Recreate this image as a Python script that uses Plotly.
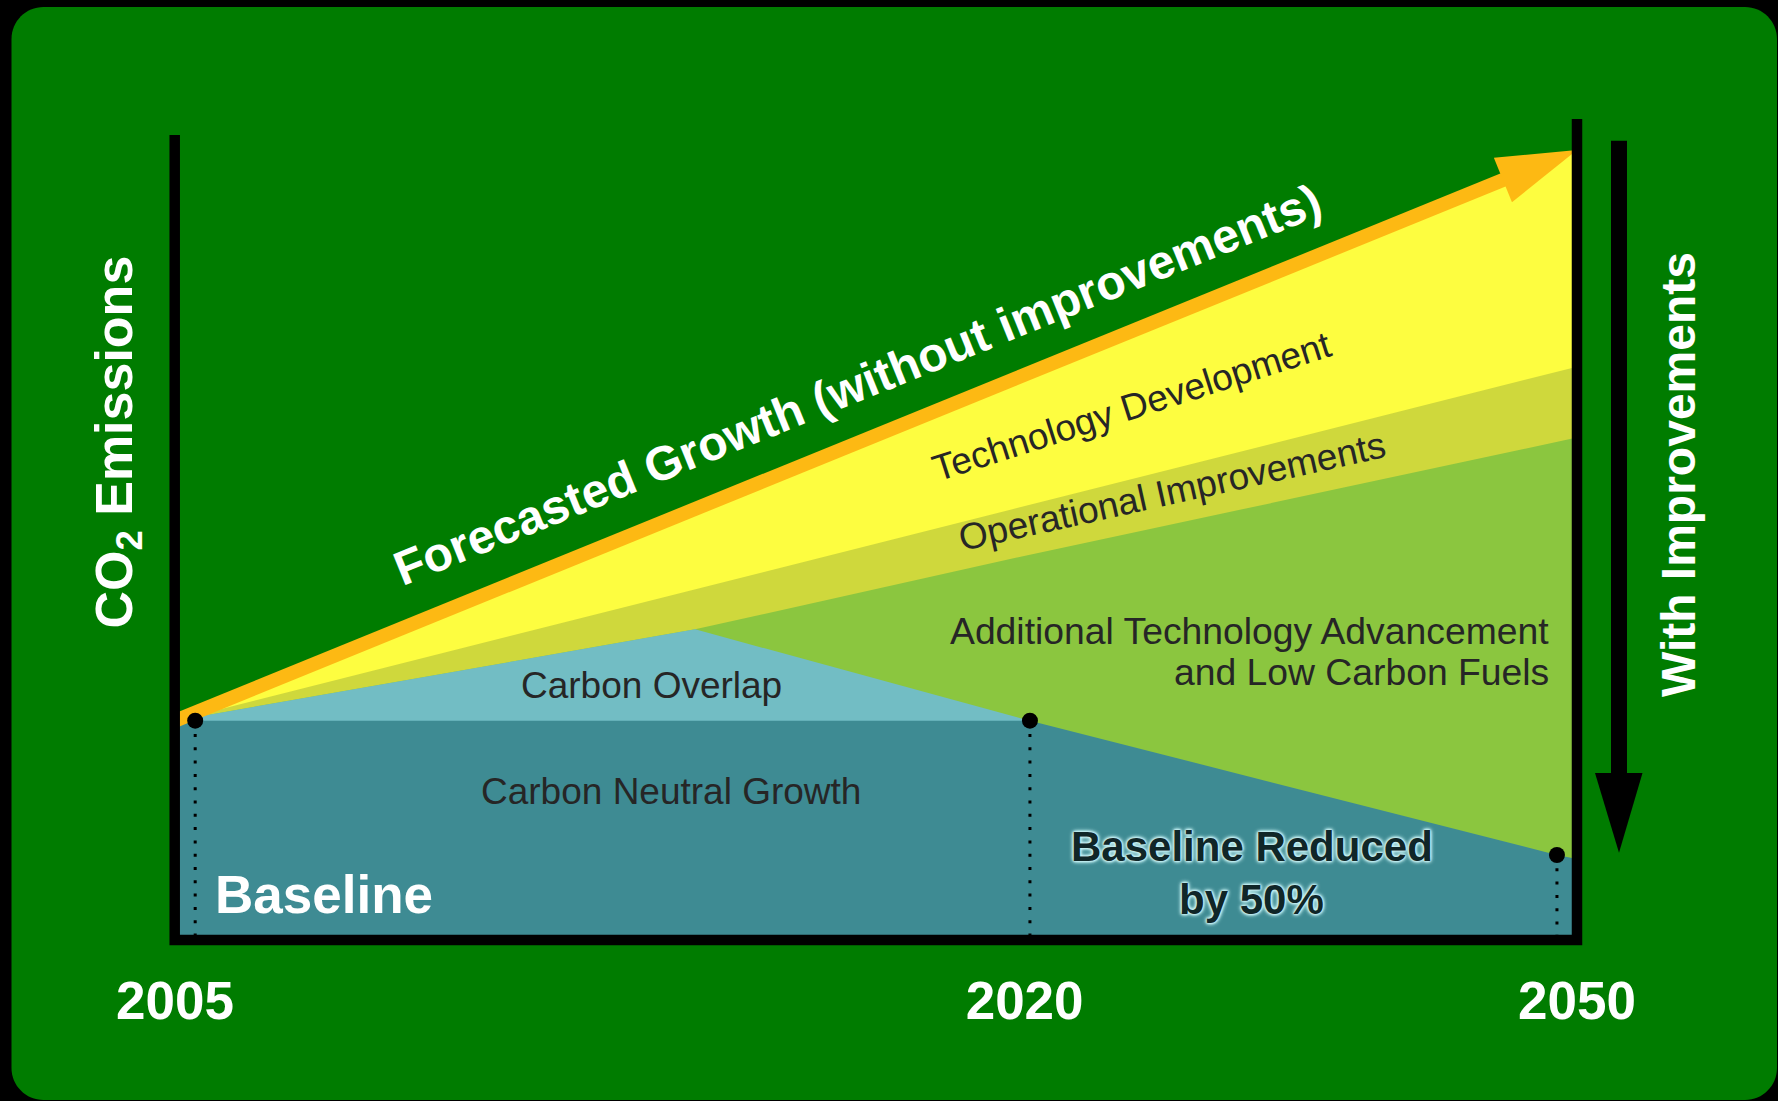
import math
import plotly.graph_objects as go

# ---------------------------------------------------------------------------
# Schematic CO2 roadmap: emissions index (2005 baseline = 100) along a
# timeline that runs from the left axis (0) to the right axis (100).
# ---------------------------------------------------------------------------
milestone_labels = ["2005", "2020", "2050"]
milestone_tick_pos = [0, 60.6, 100]          # where the year labels sit
milestone_pos = [1.44, 60.98, 98.57]         # milestone markers on the timeline
milestone_value = [100, 100, 50]             # baseline, carbon-neutral, -50 %

# upper boundary of each wedge (x positions, index values)
forecast_x = [0, 100]                        # forecasted growth (no improvements)
forecast_y = [100, 312.5]
operational_top_x = [0, 100]                 # top of operational-improvements band
operational_top_y = [100, 231.8]
advanced_top_x = [0, 37.1, 60.98, 100]       # top of additional-technology band
advanced_top_y = [100, 134.0, 161.8, 205.4]
overlap_x = [0, 37.1, 60.98]                 # carbon overlap wedge
overlap_y = [100, 134.0, 100]
neutral_x = [0, 60.98, 98.57, 100]           # carbon-neutral growth / reduced baseline
neutral_y = [100, 100, 50, 48.5]

# ---------------------------------------------------------------------------
# colours and geometry
# ---------------------------------------------------------------------------
BG_GREEN = "#007c00"
ORANGE = "#fdb913"
YELLOW = "#fdfd40"
OLIVE = "#cfd83c"
LIGHT_GREEN = "#8bc63f"
LIGHT_TEAL = "#72bdc4"
DARK_TEAL = "#3e8b93"
DARK_TEXT = "#262626"
FONT = "Liberation Sans, Arial, Helvetica, sans-serif"

FIG_W, FIG_H = 1778, 1101
M_L, M_R, M_T, M_B = 175, 201, 119, 161
PLOT_W = FIG_W - M_L - M_R
PLOT_H = FIG_H - M_T - M_B
X_RANGE = [0, 100]
Y_RANGE = [18.36, 324.0]


def paper(px, py):
    """Figure pixel position -> paper coordinates."""
    return (px - M_L) / PLOT_W, (FIG_H - M_B - py) / PLOT_H


fig = go.Figure()

# stacked wedges, drawn from the outermost boundary inwards
for xs, ys, col, name in [
    (forecast_x, forecast_y, YELLOW, "Technology Development"),
    (operational_top_x, operational_top_y, OLIVE, "Operational Improvements"),
    (advanced_top_x, advanced_top_y, LIGHT_GREEN, "Additional Technology"),
    (overlap_x, overlap_y, LIGHT_TEAL, "Carbon Overlap"),
    (neutral_x, neutral_y, DARK_TEAL, "Carbon Neutral Growth"),
]:
    fig.add_trace(go.Scatter(
        x=xs, y=ys, mode="none", fill="tozeroy", fillcolor=col,
        name=name, hoverinfo="skip", showlegend=False,
    ))

# forecast arrow: direction in screen pixels, shaft stops inside the head
px_x = PLOT_W / (X_RANGE[1] - X_RANGE[0])
px_y = PLOT_H / (Y_RANGE[1] - Y_RANGE[0])
dx = (forecast_x[-1] - forecast_x[0]) * px_x
dy = (forecast_y[-1] - forecast_y[0]) * px_y
ln = math.hypot(dx, dy)
ux, uy = dx / ln, dy / ln
nx, ny = -uy, ux
HEAD_LEN, HEAD_HALF, SHAFT_W = 80, 24, 14
shaft_end = (forecast_x[-1] - ux * (HEAD_LEN - 4) / px_x,
             forecast_y[-1] - uy * (HEAD_LEN - 4) / px_y)
fig.add_trace(go.Scatter(
    x=[forecast_x[0], shaft_end[0]], y=[forecast_y[0], shaft_end[1]], mode="lines",
    line=dict(color=ORANGE, width=SHAFT_W), hoverinfo="skip", showlegend=False,
))

# dotted drop lines from each milestone
drop_x, drop_y = [], []
for p, v in zip(milestone_pos, milestone_value):
    drop_x += [p, p, None]
    drop_y += [v, Y_RANGE[0], None]
fig.add_trace(go.Scatter(
    x=drop_x, y=drop_y, mode="lines",
    line=dict(color="black", width=3, dash="3px,10.3px"),
    hoverinfo="skip", showlegend=False,
))

# milestone markers
fig.add_trace(go.Scatter(
    x=milestone_pos, y=milestone_value, mode="markers",
    marker=dict(color="black", size=16, line=dict(width=0)),
    hoverinfo="skip", showlegend=False,
))

# ---------------------------------------------------------------------------
# shapes
# ---------------------------------------------------------------------------
shapes = []

# rounded green panel
x0, y0, x1, y1, r = 11.5, 7, 1777, 1100, 32
c = 0.5523 * r
pts = [
    ("M", [(x0 + r, y0)]),
    ("L", [(x1 - r, y0)]),
    ("C", [(x1 - r + c, y0), (x1, y0 + r - c), (x1, y0 + r)]),
    ("L", [(x1, y1 - r)]),
    ("C", [(x1, y1 - r + c), (x1 - r + c, y1), (x1 - r, y1)]),
    ("L", [(x0 + r, y1)]),
    ("C", [(x0 + r - c, y1), (x0, y1 - r + c), (x0, y1 - r)]),
    ("L", [(x0, y0 + r)]),
    ("C", [(x0, y0 + r - c), (x0 + r - c, y0), (x0 + r, y0)]),
]
path = ""
for cmd, cps in pts:
    path += cmd + " ".join("%.5f,%.5f" % paper(*p) for p in cps) + " "
shapes.append(dict(type="path", xref="paper", yref="paper", path=path + "Z",
                   fillcolor=BG_GREEN, line=dict(width=0), layer="below"))

# arrowhead of the forecast arrow (pixel offsets anchored at the tip)
bx, by = -ux * HEAD_LEN, -uy * HEAD_LEN
head = "M0,0 L%.2f,%.2f L%.2f,%.2f Z" % (
    bx + nx * HEAD_HALF, by + ny * HEAD_HALF,
    bx - nx * HEAD_HALF, by - ny * HEAD_HALF)
shapes.append(dict(type="path", xref="x", yref="y", xsizemode="pixel", ysizemode="pixel",
                   xanchor=forecast_x[-1], yanchor=forecast_y[-1], path=head,
                   fillcolor=ORANGE, line=dict(width=0), layer="above"))

# axis frame (left, bottom, right)
frame = "M%.5f,%.5f L%.5f,%.5f L%.5f,%.5f L%.5f,%.5f" % (
    *paper(174.7, 135), *paper(174.7, 940), *paper(1577, 940), *paper(1577, 119))
shapes.append(dict(type="path", xref="paper", yref="paper", path=frame,
                   line=dict(color="black", width=10.5), layer="above"))

# "with improvements" down arrow
sx0, sy0 = paper(1611, 140.7)
sx1, sy1 = paper(1627, 776)
shapes.append(dict(type="rect", xref="paper", yref="paper", x0=sx0, x1=sx1, y0=sy1, y1=sy0,
                   fillcolor="black", line=dict(width=0), layer="above"))
tri = "M%.5f,%.5f L%.5f,%.5f L%.5f,%.5f Z" % (
    *paper(1595, 773), *paper(1642.5, 773), *paper(1619, 852.7))
shapes.append(dict(type="path", xref="paper", yref="paper", path=tri,
                   fillcolor="black", line=dict(width=0), layer="above"))

# ---------------------------------------------------------------------------
# text labels
# ---------------------------------------------------------------------------
annotations = []


def label(text, px, py, size, color, bold=False, angle=0, xanchor="center", shadow=None):
    xp, yp = paper(px, py)
    font = dict(family=FONT, size=size, color=color, weight="bold" if bold else "normal")
    if shadow:
        font["shadow"] = shadow
    annotations.append(dict(
        text=text, x=xp, y=yp, xref="paper", yref="paper", showarrow=False,
        xanchor=xanchor, yanchor="middle", textangle=angle, font=font,
    ))


label("CO<sub>2</sub> Emissions", 117, 442.5, 52, "white", bold=True, angle=-90)
label("With Improvements", 1678, 475, 48, "white", bold=True, angle=-90)
label("Forecasted Growth (without improvements)", 857.6, 384.5, 48, "white", bold=True, angle=-22)
label("Technology Development", 1132, 407, 37, DARK_TEXT, angle=-17.7)
label("Operational Improvements", 1172.4, 491.2, 37, DARK_TEXT, angle=-12.5)
label("Additional Technology Advancement", 1550.5, 630.5, 37.3, DARK_TEXT, xanchor="right")
label("and Low Carbon Fuels", 1550.5, 672, 37.3, DARK_TEXT, xanchor="right")
label("Carbon Overlap", 651, 685, 37, DARK_TEXT)
label("Carbon Neutral Growth", 671, 791, 37, DARK_TEXT)
label("Baseline", 213, 894, 53, "white", bold=True, xanchor="left")
glow = ", ".join(["0px 0px 1px #c8f3f6", "0px 0px 2px #c8f3f6", "0px 0px 3px #c8f3f6",
                  "0px 0px 3px #c8f3f6", "0px 0px 4px #c8f3f6", "0px 0px 5px #c8f3f6"])
label("Baseline Reduced", 1251.5, 846.5, 42, "#102628", bold=True, shadow=glow)
label("by 50%", 1251.5, 899, 42, "#102628", bold=True, shadow=glow)

fig.update_layout(
    width=FIG_W, height=FIG_H,
    margin=dict(l=M_L, r=M_R, t=M_T, b=M_B, pad=0, autoexpand=False),
    paper_bgcolor="black", plot_bgcolor="rgba(0,0,0,0)",
    font=dict(family=FONT),
    showlegend=False,
    shapes=shapes, annotations=annotations,
    xaxis=dict(range=X_RANGE, showgrid=False, zeroline=False, showline=False,
               ticks="", tickvals=milestone_tick_pos, ticktext=milestone_labels,
               tickfont=dict(family=FONT, size=53, color="white", weight="bold"),
               ticklabelstandoff=25, fixedrange=True, automargin=False),
    yaxis=dict(range=Y_RANGE, showgrid=False, zeroline=False, showline=False,
               showticklabels=False, ticks="", fixedrange=True, automargin=False),
)

fig.write_html("out.html", config={"displayModeBar": False})
